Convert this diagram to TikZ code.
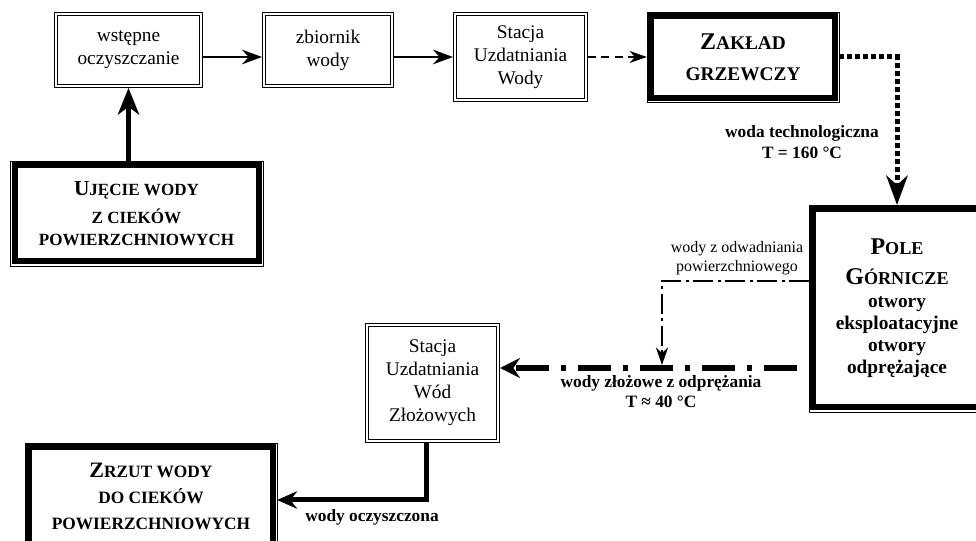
\documentclass[tikz,border=0pt]{standalone}
\usepackage{fontspec}
\setmainfont{Liberation Serif}
\usetikzlibrary{arrows.meta,calc}
\newcommand\bigini[2]{{\fontsize{#1}{#1}\selectfont #2}}
\begin{document}
\begin{tikzpicture}[x=0.75pt,y=-0.75pt,
  dbox/.style={draw, double, double distance=1.6pt, line width=0.55pt, outer sep=1.35pt,
    inner sep=0pt, align=center, font=\fontsize{14.5}{17.3}\selectfont},
  tbox/.style={draw, line width=4.5pt, outer sep=3.4pt, inner sep=0pt, align=center},
  frameline/.style={line width=0.5pt},
  lab/.style={inner sep=0pt, align=center},
  arrA/.style={line width=1.5pt, -{Stealth[length=15pt,width=11pt,inset=5pt]}},
  arrDash/.style={line width=1.3pt, dash pattern=on 6pt off 4pt, -{Stealth[length=13pt,width=9pt,inset=4pt]}},
  arrBig/.style={line width=3.75pt, -{Stealth[length=20pt,width=16pt,inset=6pt]}},
  arrDot/.style={line width=3.75pt, dash pattern=on 3.75pt off 2.25pt, -{Stealth[length=22pt,width=16pt,inset=7pt]}},
  arrMain/.style={line width=4.1pt, dash pattern=on 24.75pt off 9pt on 3.75pt off 9pt, dash phase=37.5pt,
    -{Stealth[length=15pt,width=15pt,inset=5pt]}},
  arrOdw/.style={line width=2pt, dash pattern=on 15pt off 3pt on 2.25pt off 3.75pt,
    -{Stealth[length=13pt,width=9pt,inset=4pt]}},
  arrOut/.style={line width=3.75pt, -{Stealth[length=15pt,width=13pt,inset=5pt]}}
]
\clip (0,0) rectangle (976,541);
\fill[white] (0,0) rectangle (976,541);

% double boxes
\node[dbox, minimum width=109pt, minimum height=54.3pt] (pre) at (128.5,50) {wstępne\\oczyszczanie};
\node[dbox, minimum width=96.3pt, minimum height=54.3pt] (zb) at (328,50) {zbiornik\\wody};
\node[dbox, minimum width=98.6pt, minimum height=64.8pt] (suw) at (520.5,57) {Stacja\\Uzdatniania\\Wody};
\node[dbox, minimum width=98.6pt, minimum height=87.3pt] (suwz) at (432.5,383) {Stacja\\Uzdatniania\\Wód\\Złożowych};

% thick boxes
\node[tbox, minimum width=137.3pt, minimum height=60.8pt, font=\bfseries\fontsize{14.5}{23}\selectfont]
  (zak) at (743,57) {\bigini{18}{Z}AKŁAD\\GRZEWCZY};
\node[tbox, minimum width=183pt, minimum height=72pt, font=\bfseries\fontsize{12.8}{17}\selectfont]
  (uje) at (136.5,213.5) {\bigini{16}{U}JĘCIE WODY\\[4pt]Z CIEKÓW\\POWIERZCHNIOWYCH};
\node[tbox, minimum width=125.3pt, minimum height=148.5pt, font=\bfseries\fontsize{14.5}{16.5}\selectfont]
  (pole) at (897,308.5) {\bigini{18}{P}{\fontsize{13.6}{13.6}\selectfont OLE}\\[6pt]\bigini{18}{G}{\fontsize{13.6}{13.6}\selectfont ÓRNICZE}\\[0.5pt]otwory\\eksploatacyjne\\otwory\\odprężające};
\node[tbox, minimum width=182.3pt, minimum height=72.8pt, font=\bfseries\fontsize{13}{19.5}\selectfont]
  (zrz) at (151,496) {\bigini{16.5}{Z}RZUT WODY\\DO CIEKÓW\\POWIERZCHNIOWYCH};

\foreach \n in {zak,uje,pole,zrz}
  \draw[frameline] (\n.north west) rectangle (\n.south east);

% helper coordinates
\coordinate (mainy) at (0,368);
\coordinate (odwy) at (0,281);
\coordinate (odwend) at (662,365);
\coordinate (outx) at (426,0);
\coordinate (outy) at (0,500);

% connectors
\draw[arrA] (pre.east |- suw.west) -- (zb.west |- suw.west);
\draw[arrA] (zb.east |- suw.west) -- (suw.west);
\draw[arrDash] (suw.east) -- (zak.west);
\draw[arrBig] (pre.south |- uje.north) -- (pre.south);
\draw[arrDot] (zak.east) -| (pole.north);
\draw[arrMain] (pole.west |- mainy) -- (suwz.east |- mainy);
\draw[arrOdw] (pole.west |- odwy) -| (odwend);
\draw[arrOut] (suwz.south -| outx) |- (zrz.east |- outy);

% labels
\node[lab, font=\bfseries\fontsize{13}{16}\selectfont] (l1) at (802,142) {woda technologiczna\\T = 160 °C};
\node[lab, font=\fontsize{12}{14.3}\selectfont] (l2) at (737,258) {wody z odwadniania\\powierzchniowego};
\node[lab, font=\bfseries\fontsize{13}{15}\selectfont] (l3) at (661,392) {wody złożowe z odprężania\\T ≈ 40 °C};
\node[lab, font=\bfseries\fontsize{13}{15}\selectfont] (l4) at (372,517) {wody oczyszczona};
\end{tikzpicture}
\end{document}
